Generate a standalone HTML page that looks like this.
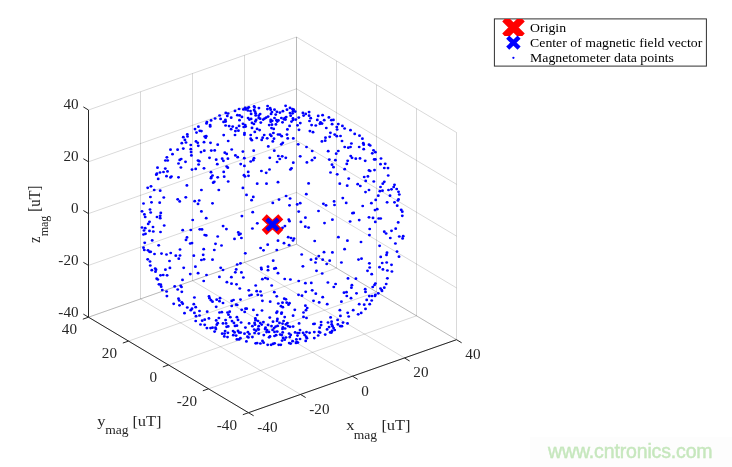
<!DOCTYPE html>
<html><head><meta charset="utf-8">
<style>
html,body{margin:0;padding:0;background:#fff;}
body{width:732px;height:467px;overflow:hidden;position:relative;font-family:"Liberation Serif",serif;}
svg{position:absolute;left:0;top:0;will-change:transform;}
.g{stroke:#000;stroke-opacity:0.15;stroke-width:1;fill:none;}
.a{stroke:#262626;stroke-width:1;fill:none;}
.t{font-family:"Liberation Serif",serif;font-size:13.8px;fill:#262626;}
.e{text-anchor:end;}
.l{font-family:"Liberation Serif",serif;font-size:14.67px;fill:#262626;}
.s{font-size:12px;}
.lg{font-family:"Liberation Serif",serif;font-size:13.33px;fill:#000;}
.wm{font-family:"Liberation Sans",sans-serif;font-size:19.5px;fill:#c6e7bd;}
</style></head><body>
<svg width="732" height="467" viewBox="0 0 732 467">
<rect x="0" y="0" width="732" height="467" fill="#fff"/>
<rect x="530" y="437" width="202" height="30" fill="#fdfdfd"/>
<g><line x1="248.50" y1="412.70" x2="88.50" y2="317.20" class="g"/><line x1="248.50" y1="412.70" x2="456.50" y2="339.70" class="g"/><line x1="88.50" y1="317.20" x2="88.50" y2="110.00" class="g"/><line x1="88.50" y1="317.20" x2="296.50" y2="244.20" class="g"/><line x1="456.50" y1="339.70" x2="456.50" y2="132.50" class="g"/><line x1="456.50" y1="339.70" x2="296.50" y2="244.20" class="g"/><line x1="300.50" y1="394.45" x2="140.50" y2="298.95" class="g"/><line x1="208.50" y1="388.83" x2="416.50" y2="315.82" class="g"/><line x1="140.50" y1="298.95" x2="140.50" y2="91.75" class="g"/><line x1="88.50" y1="265.40" x2="296.50" y2="192.40" class="g"/><line x1="416.50" y1="315.82" x2="416.50" y2="108.62" class="g"/><line x1="456.50" y1="287.90" x2="296.50" y2="192.40" class="g"/><line x1="352.50" y1="376.20" x2="192.50" y2="280.70" class="g"/><line x1="168.50" y1="364.95" x2="376.50" y2="291.95" class="g"/><line x1="192.50" y1="280.70" x2="192.50" y2="73.50" class="g"/><line x1="88.50" y1="213.60" x2="296.50" y2="140.60" class="g"/><line x1="376.50" y1="291.95" x2="376.50" y2="84.75" class="g"/><line x1="456.50" y1="236.10" x2="296.50" y2="140.60" class="g"/><line x1="404.50" y1="357.95" x2="244.50" y2="262.45" class="g"/><line x1="128.50" y1="341.08" x2="336.50" y2="268.07" class="g"/><line x1="244.50" y1="262.45" x2="244.50" y2="55.25" class="g"/><line x1="88.50" y1="161.80" x2="296.50" y2="88.80" class="g"/><line x1="336.50" y1="268.07" x2="336.50" y2="60.88" class="g"/><line x1="456.50" y1="184.30" x2="296.50" y2="88.80" class="g"/><line x1="456.50" y1="339.70" x2="296.50" y2="244.20" class="g"/><line x1="88.50" y1="317.20" x2="296.50" y2="244.20" class="g"/><line x1="296.50" y1="244.20" x2="296.50" y2="37.00" class="g"/><line x1="88.50" y1="110.00" x2="296.50" y2="37.00" class="g"/><line x1="296.50" y1="244.20" x2="296.50" y2="37.00" class="g"/><line x1="456.50" y1="132.50" x2="296.50" y2="37.00" class="g"/></g>
<g><line x1="88.50" y1="317.20" x2="88.50" y2="110.00" class="a"/><line x1="88.50" y1="317.20" x2="248.50" y2="412.70" class="a"/><line x1="248.50" y1="412.70" x2="456.50" y2="339.70" class="a"/><line x1="88.50" y1="317.20" x2="83.35" y2="314.12" class="a"/><line x1="248.50" y1="412.70" x2="242.84" y2="414.69" class="a"/><line x1="248.50" y1="412.70" x2="253.65" y2="415.78" class="a"/><line x1="88.50" y1="265.40" x2="83.35" y2="262.32" class="a"/><line x1="208.50" y1="388.83" x2="202.84" y2="390.81" class="a"/><line x1="300.50" y1="394.45" x2="305.65" y2="397.53" class="a"/><line x1="88.50" y1="213.60" x2="83.35" y2="210.52" class="a"/><line x1="168.50" y1="364.95" x2="162.84" y2="366.94" class="a"/><line x1="352.50" y1="376.20" x2="357.65" y2="379.28" class="a"/><line x1="88.50" y1="161.80" x2="83.35" y2="158.72" class="a"/><line x1="128.50" y1="341.08" x2="122.84" y2="343.06" class="a"/><line x1="404.50" y1="357.95" x2="409.65" y2="361.03" class="a"/><line x1="88.50" y1="110.00" x2="83.35" y2="106.92" class="a"/><line x1="88.50" y1="317.20" x2="82.84" y2="319.19" class="a"/><line x1="456.50" y1="339.70" x2="461.65" y2="342.78" class="a"/></g>
<g fill="#0000ff"><ellipse cx="154.2" cy="190.0" rx="1.45" ry="1.36"/><ellipse cx="160.2" cy="190.7" rx="1.45" ry="1.36"/><ellipse cx="201.4" cy="190.0" rx="1.45" ry="1.36"/><ellipse cx="150.4" cy="197.0" rx="1.45" ry="1.36"/><ellipse cx="163.8" cy="197.5" rx="1.45" ry="1.36"/><ellipse cx="177.7" cy="199.3" rx="1.45" ry="1.36"/><ellipse cx="185.8" cy="197.3" rx="1.45" ry="1.36"/><ellipse cx="179.7" cy="201.4" rx="1.45" ry="1.36"/><ellipse cx="151.5" cy="202.3" rx="1.45" ry="1.36"/><ellipse cx="159.7" cy="202.7" rx="1.45" ry="1.36"/><ellipse cx="143.5" cy="203.5" rx="1.45" ry="1.36"/><ellipse cx="194.7" cy="201.2" rx="1.45" ry="1.36"/><ellipse cx="199.2" cy="200.5" rx="1.45" ry="1.36"/><ellipse cx="198.0" cy="203.9" rx="1.45" ry="1.36"/><ellipse cx="150.0" cy="209.5" rx="1.45" ry="1.36"/><ellipse cx="142.0" cy="211.3" rx="1.45" ry="1.36"/><ellipse cx="150.7" cy="212.5" rx="1.45" ry="1.36"/><ellipse cx="160.8" cy="212.9" rx="1.45" ry="1.36"/><ellipse cx="201.4" cy="211.4" rx="1.45" ry="1.36"/><ellipse cx="144.4" cy="214.4" rx="1.45" ry="1.36"/><ellipse cx="145.2" cy="217.0" rx="1.45" ry="1.36"/><ellipse cx="157.0" cy="217.0" rx="1.45" ry="1.36"/><ellipse cx="160.2" cy="215.8" rx="1.45" ry="1.36"/><ellipse cx="160.2" cy="218.2" rx="1.45" ry="1.36"/><ellipse cx="192.7" cy="220.0" rx="1.45" ry="1.36"/><ellipse cx="149.5" cy="221.8" rx="1.45" ry="1.36"/><ellipse cx="148.2" cy="223.9" rx="1.45" ry="1.36"/><ellipse cx="164.2" cy="225.5" rx="1.45" ry="1.36"/><ellipse cx="142.0" cy="227.5" rx="1.45" ry="1.36"/><ellipse cx="145.2" cy="228.2" rx="1.45" ry="1.36"/><ellipse cx="153.0" cy="227.0" rx="1.45" ry="1.36"/><ellipse cx="144.0" cy="230.5" rx="1.45" ry="1.36"/><ellipse cx="149.5" cy="230.9" rx="1.45" ry="1.36"/><ellipse cx="153.3" cy="231.5" rx="1.45" ry="1.36"/><ellipse cx="160.5" cy="232.0" rx="1.45" ry="1.36"/><ellipse cx="182.7" cy="230.2" rx="1.45" ry="1.36"/><ellipse cx="190.8" cy="230.0" rx="1.45" ry="1.36"/><ellipse cx="199.8" cy="229.3" rx="1.45" ry="1.36"/><ellipse cx="202.0" cy="229.4" rx="1.45" ry="1.36"/><ellipse cx="145.5" cy="233.8" rx="1.45" ry="1.36"/><ellipse cx="143.5" cy="234.5" rx="1.45" ry="1.36"/><ellipse cx="204.7" cy="235.0" rx="1.45" ry="1.36"/><ellipse cx="187.0" cy="237.4" rx="1.45" ry="1.36"/><ellipse cx="186.0" cy="239.9" rx="1.45" ry="1.36"/><ellipse cx="152.2" cy="240.4" rx="1.45" ry="1.36"/><ellipse cx="144.7" cy="242.8" rx="1.45" ry="1.36"/><ellipse cx="190.2" cy="243.5" rx="1.45" ry="1.36"/><ellipse cx="192.0" cy="243.1" rx="1.45" ry="1.36"/><ellipse cx="158.7" cy="245.3" rx="1.45" ry="1.36"/><ellipse cx="143.5" cy="247.7" rx="1.45" ry="1.36"/><ellipse cx="144.3" cy="250.0" rx="1.45" ry="1.36"/><ellipse cx="148.0" cy="250.3" rx="1.45" ry="1.36"/><ellipse cx="149.5" cy="251.8" rx="1.45" ry="1.36"/><ellipse cx="150.7" cy="251.8" rx="1.45" ry="1.36"/><ellipse cx="180.0" cy="249.5" rx="1.45" ry="1.36"/><ellipse cx="203.7" cy="249.2" rx="1.45" ry="1.36"/><ellipse cx="154.5" cy="254.0" rx="1.45" ry="1.36"/><ellipse cx="161.5" cy="253.6" rx="1.45" ry="1.36"/><ellipse cx="166.5" cy="254.5" rx="1.45" ry="1.36"/><ellipse cx="170.7" cy="253.0" rx="1.45" ry="1.36"/><ellipse cx="175.8" cy="255.7" rx="1.45" ry="1.36"/><ellipse cx="180.0" cy="255.5" rx="1.45" ry="1.36"/><ellipse cx="193.8" cy="255.7" rx="1.45" ry="1.36"/><ellipse cx="203.2" cy="254.8" rx="1.45" ry="1.36"/><ellipse cx="147.7" cy="259.3" rx="1.45" ry="1.36"/><ellipse cx="178.8" cy="258.7" rx="1.45" ry="1.36"/><ellipse cx="204.0" cy="259.3" rx="1.45" ry="1.36"/><ellipse cx="218.8" cy="190.0" rx="1.45" ry="1.36"/><ellipse cx="246.5" cy="194.9" rx="1.45" ry="1.36"/><ellipse cx="253.3" cy="196.9" rx="1.45" ry="1.36"/><ellipse cx="251.6" cy="200.2" rx="1.45" ry="1.36"/><ellipse cx="212.5" cy="203.3" rx="1.45" ry="1.36"/><ellipse cx="272.8" cy="202.9" rx="1.45" ry="1.36"/><ellipse cx="252.7" cy="212.2" rx="1.45" ry="1.36"/><ellipse cx="241.9" cy="216.1" rx="1.45" ry="1.36"/><ellipse cx="206.2" cy="218.2" rx="1.45" ry="1.36"/><ellipse cx="257.3" cy="223.3" rx="1.45" ry="1.36"/><ellipse cx="223.1" cy="226.1" rx="1.45" ry="1.36"/><ellipse cx="226.4" cy="229.1" rx="1.45" ry="1.36"/><ellipse cx="252.4" cy="228.5" rx="1.45" ry="1.36"/><ellipse cx="238.3" cy="232.4" rx="1.45" ry="1.36"/><ellipse cx="240.5" cy="233.8" rx="1.45" ry="1.36"/><ellipse cx="239.0" cy="234.7" rx="1.45" ry="1.36"/><ellipse cx="206.2" cy="235.4" rx="1.45" ry="1.36"/><ellipse cx="217.7" cy="236.5" rx="1.45" ry="1.36"/><ellipse cx="234.5" cy="238.9" rx="1.45" ry="1.36"/><ellipse cx="241.4" cy="238.0" rx="1.45" ry="1.36"/><ellipse cx="215.5" cy="243.8" rx="1.45" ry="1.36"/><ellipse cx="221.5" cy="245.5" rx="1.45" ry="1.36"/><ellipse cx="267.7" cy="244.7" rx="1.45" ry="1.36"/><ellipse cx="260.6" cy="248.0" rx="1.45" ry="1.36"/><ellipse cx="263.5" cy="250.3" rx="1.45" ry="1.36"/><ellipse cx="214.3" cy="250.0" rx="1.45" ry="1.36"/><ellipse cx="245.3" cy="253.3" rx="1.45" ry="1.36"/><ellipse cx="212.5" cy="259.7" rx="1.45" ry="1.36"/><ellipse cx="306.3" cy="194.2" rx="1.45" ry="1.36"/><ellipse cx="286.1" cy="196.0" rx="1.45" ry="1.36"/><ellipse cx="290.1" cy="198.5" rx="1.45" ry="1.36"/><ellipse cx="279.0" cy="199.6" rx="1.45" ry="1.36"/><ellipse cx="342.8" cy="198.1" rx="1.45" ry="1.36"/><ellipse cx="334.1" cy="201.4" rx="1.45" ry="1.36"/><ellipse cx="323.4" cy="203.8" rx="1.45" ry="1.36"/><ellipse cx="326.0" cy="205.3" rx="1.45" ry="1.36"/><ellipse cx="334.5" cy="205.0" rx="1.45" ry="1.36"/><ellipse cx="300.2" cy="203.2" rx="1.45" ry="1.36"/><ellipse cx="297.2" cy="204.4" rx="1.45" ry="1.36"/><ellipse cx="289.5" cy="205.3" rx="1.45" ry="1.36"/><ellipse cx="298.7" cy="211.6" rx="1.45" ry="1.36"/><ellipse cx="318.5" cy="211.0" rx="1.45" ry="1.36"/><ellipse cx="305.4" cy="217.7" rx="1.45" ry="1.36"/><ellipse cx="288.8" cy="219.7" rx="1.45" ry="1.36"/><ellipse cx="289.5" cy="221.2" rx="1.45" ry="1.36"/><ellipse cx="300.9" cy="221.9" rx="1.45" ry="1.36"/><ellipse cx="332.4" cy="219.7" rx="1.45" ry="1.36"/><ellipse cx="324.5" cy="223.1" rx="1.45" ry="1.36"/><ellipse cx="284.9" cy="226.1" rx="1.45" ry="1.36"/><ellipse cx="282.5" cy="227.8" rx="1.45" ry="1.36"/><ellipse cx="305.3" cy="226.7" rx="1.45" ry="1.36"/><ellipse cx="308.6" cy="227.6" rx="1.45" ry="1.36"/><ellipse cx="338.4" cy="237.2" rx="1.45" ry="1.36"/><ellipse cx="288.2" cy="237.2" rx="1.45" ry="1.36"/><ellipse cx="291.0" cy="238.0" rx="1.45" ry="1.36"/><ellipse cx="294.0" cy="238.6" rx="1.45" ry="1.36"/><ellipse cx="293.0" cy="240.5" rx="1.45" ry="1.36"/><ellipse cx="278.0" cy="240.7" rx="1.45" ry="1.36"/><ellipse cx="314.7" cy="241.0" rx="1.45" ry="1.36"/><ellipse cx="284.0" cy="243.2" rx="1.45" ry="1.36"/><ellipse cx="289.1" cy="245.2" rx="1.45" ry="1.36"/><ellipse cx="276.8" cy="250.0" rx="1.45" ry="1.36"/><ellipse cx="344.6" cy="249.2" rx="1.45" ry="1.36"/><ellipse cx="324.0" cy="252.2" rx="1.45" ry="1.36"/><ellipse cx="332.4" cy="252.4" rx="1.45" ry="1.36"/><ellipse cx="301.7" cy="254.5" rx="1.45" ry="1.36"/><ellipse cx="318.8" cy="256.0" rx="1.45" ry="1.36"/><ellipse cx="316.2" cy="258.7" rx="1.45" ry="1.36"/><ellipse cx="311.0" cy="259.7" rx="1.45" ry="1.36"/><ellipse cx="322.7" cy="259.7" rx="1.45" ry="1.36"/><ellipse cx="365.5" cy="192.1" rx="1.45" ry="1.36"/><ellipse cx="369.0" cy="190.0" rx="1.45" ry="1.36"/><ellipse cx="379.9" cy="191.2" rx="1.45" ry="1.36"/><ellipse cx="382.5" cy="190.7" rx="1.45" ry="1.36"/><ellipse cx="388.5" cy="190.0" rx="1.45" ry="1.36"/><ellipse cx="398.5" cy="191.8" rx="1.45" ry="1.36"/><ellipse cx="399.3" cy="194.5" rx="1.45" ry="1.36"/><ellipse cx="378.3" cy="195.7" rx="1.45" ry="1.36"/><ellipse cx="390.0" cy="195.7" rx="1.45" ry="1.36"/><ellipse cx="375.7" cy="199.9" rx="1.45" ry="1.36"/><ellipse cx="398.5" cy="199.3" rx="1.45" ry="1.36"/><ellipse cx="397.9" cy="200.5" rx="1.45" ry="1.36"/><ellipse cx="346.2" cy="202.9" rx="1.45" ry="1.36"/><ellipse cx="371.4" cy="203.2" rx="1.45" ry="1.36"/><ellipse cx="387.1" cy="202.3" rx="1.45" ry="1.36"/><ellipse cx="394.5" cy="202.3" rx="1.45" ry="1.36"/><ellipse cx="362.7" cy="206.0" rx="1.45" ry="1.36"/><ellipse cx="397.2" cy="205.7" rx="1.45" ry="1.36"/><ellipse cx="377.2" cy="209.2" rx="1.45" ry="1.36"/><ellipse cx="375.0" cy="210.1" rx="1.45" ry="1.36"/><ellipse cx="401.2" cy="209.8" rx="1.45" ry="1.36"/><ellipse cx="402.3" cy="211.7" rx="1.45" ry="1.36"/><ellipse cx="352.5" cy="213.2" rx="1.45" ry="1.36"/><ellipse cx="353.7" cy="212.9" rx="1.45" ry="1.36"/><ellipse cx="402.3" cy="215.8" rx="1.45" ry="1.36"/><ellipse cx="369.0" cy="217.3" rx="1.45" ry="1.36"/><ellipse cx="373.0" cy="217.9" rx="1.45" ry="1.36"/><ellipse cx="378.7" cy="218.5" rx="1.45" ry="1.36"/><ellipse cx="380.7" cy="218.5" rx="1.45" ry="1.36"/><ellipse cx="359.2" cy="220.1" rx="1.45" ry="1.36"/><ellipse cx="350.1" cy="221.5" rx="1.45" ry="1.36"/><ellipse cx="375.3" cy="221.9" rx="1.45" ry="1.36"/><ellipse cx="398.2" cy="222.4" rx="1.45" ry="1.36"/><ellipse cx="369.7" cy="229.0" rx="1.45" ry="1.36"/><ellipse cx="395.7" cy="228.7" rx="1.45" ry="1.36"/><ellipse cx="391.5" cy="230.8" rx="1.45" ry="1.36"/><ellipse cx="384.3" cy="231.7" rx="1.45" ry="1.36"/><ellipse cx="386.1" cy="233.5" rx="1.45" ry="1.36"/><ellipse cx="369.4" cy="235.1" rx="1.45" ry="1.36"/><ellipse cx="399.3" cy="236.5" rx="1.45" ry="1.36"/><ellipse cx="403.2" cy="236.2" rx="1.45" ry="1.36"/><ellipse cx="402.6" cy="238.4" rx="1.45" ry="1.36"/><ellipse cx="390.3" cy="238.0" rx="1.45" ry="1.36"/><ellipse cx="347.4" cy="240.7" rx="1.45" ry="1.36"/><ellipse cx="361.0" cy="242.0" rx="1.45" ry="1.36"/><ellipse cx="395.4" cy="243.5" rx="1.45" ry="1.36"/><ellipse cx="379.6" cy="245.8" rx="1.45" ry="1.36"/><ellipse cx="397.0" cy="251.6" rx="1.45" ry="1.36"/><ellipse cx="387.0" cy="252.7" rx="1.45" ry="1.36"/><ellipse cx="386.5" cy="254.9" rx="1.45" ry="1.36"/><ellipse cx="380.7" cy="256.9" rx="1.45" ry="1.36"/><ellipse cx="399.0" cy="256.7" rx="1.45" ry="1.36"/><ellipse cx="361.5" cy="258.7" rx="1.45" ry="1.36"/><ellipse cx="358.5" cy="259.6" rx="1.45" ry="1.36"/><ellipse cx="198.4" cy="126.7" rx="1.45" ry="1.36"/><ellipse cx="195.0" cy="129.1" rx="1.45" ry="1.36"/><ellipse cx="199.8" cy="130.8" rx="1.45" ry="1.36"/><ellipse cx="201.4" cy="131.1" rx="1.45" ry="1.36"/><ellipse cx="196.5" cy="132.6" rx="1.45" ry="1.36"/><ellipse cx="187.3" cy="134.4" rx="1.45" ry="1.36"/><ellipse cx="187.5" cy="136.5" rx="1.45" ry="1.36"/><ellipse cx="183.3" cy="137.2" rx="1.45" ry="1.36"/><ellipse cx="204.7" cy="136.5" rx="1.45" ry="1.36"/><ellipse cx="184.9" cy="139.9" rx="1.45" ry="1.36"/><ellipse cx="196.0" cy="141.4" rx="1.45" ry="1.36"/><ellipse cx="197.7" cy="142.8" rx="1.45" ry="1.36"/><ellipse cx="186.0" cy="142.5" rx="1.45" ry="1.36"/><ellipse cx="181.8" cy="143.2" rx="1.45" ry="1.36"/><ellipse cx="204.0" cy="142.2" rx="1.45" ry="1.36"/><ellipse cx="190.8" cy="145.0" rx="1.45" ry="1.36"/><ellipse cx="198.3" cy="145.8" rx="1.45" ry="1.36"/><ellipse cx="183.3" cy="148.6" rx="1.45" ry="1.36"/><ellipse cx="190.8" cy="149.2" rx="1.45" ry="1.36"/><ellipse cx="177.6" cy="149.7" rx="1.45" ry="1.36"/><ellipse cx="170.5" cy="149.7" rx="1.45" ry="1.36"/><ellipse cx="204.3" cy="150.7" rx="1.45" ry="1.36"/><ellipse cx="191.1" cy="152.1" rx="1.45" ry="1.36"/><ellipse cx="201.0" cy="152.1" rx="1.45" ry="1.36"/><ellipse cx="172.5" cy="154.2" rx="1.45" ry="1.36"/><ellipse cx="191.4" cy="155.4" rx="1.45" ry="1.36"/><ellipse cx="166.9" cy="157.3" rx="1.45" ry="1.36"/><ellipse cx="181.2" cy="159.0" rx="1.45" ry="1.36"/><ellipse cx="179.7" cy="159.9" rx="1.45" ry="1.36"/><ellipse cx="165.4" cy="160.5" rx="1.45" ry="1.36"/><ellipse cx="167.7" cy="160.5" rx="1.45" ry="1.36"/><ellipse cx="198.0" cy="160.5" rx="1.45" ry="1.36"/><ellipse cx="199.2" cy="161.2" rx="1.45" ry="1.36"/><ellipse cx="185.5" cy="161.8" rx="1.45" ry="1.36"/><ellipse cx="178.5" cy="163.5" rx="1.45" ry="1.36"/><ellipse cx="198.6" cy="164.5" rx="1.45" ry="1.36"/><ellipse cx="180.9" cy="167.5" rx="1.45" ry="1.36"/><ellipse cx="157.5" cy="167.7" rx="1.45" ry="1.36"/><ellipse cx="165.3" cy="168.6" rx="1.45" ry="1.36"/><ellipse cx="204.0" cy="168.3" rx="1.45" ry="1.36"/><ellipse cx="195.7" cy="168.9" rx="1.45" ry="1.36"/><ellipse cx="192.0" cy="169.6" rx="1.45" ry="1.36"/><ellipse cx="167.5" cy="171.4" rx="1.45" ry="1.36"/><ellipse cx="160.0" cy="172.5" rx="1.45" ry="1.36"/><ellipse cx="163.5" cy="172.0" rx="1.45" ry="1.36"/><ellipse cx="156.9" cy="173.7" rx="1.45" ry="1.36"/><ellipse cx="156.3" cy="174.7" rx="1.45" ry="1.36"/><ellipse cx="166.5" cy="176.2" rx="1.45" ry="1.36"/><ellipse cx="171.4" cy="176.5" rx="1.45" ry="1.36"/><ellipse cx="170.5" cy="177.4" rx="1.45" ry="1.36"/><ellipse cx="178.5" cy="177.3" rx="1.45" ry="1.36"/><ellipse cx="158.2" cy="178.9" rx="1.45" ry="1.36"/><ellipse cx="186.9" cy="185.4" rx="1.45" ry="1.36"/><ellipse cx="151.0" cy="186.3" rx="1.45" ry="1.36"/><ellipse cx="147.7" cy="187.8" rx="1.45" ry="1.36"/><ellipse cx="223.7" cy="135.1" rx="1.45" ry="1.36"/><ellipse cx="206.2" cy="136.2" rx="1.45" ry="1.36"/><ellipse cx="205.7" cy="137.7" rx="1.45" ry="1.36"/><ellipse cx="256.7" cy="138.0" rx="1.45" ry="1.36"/><ellipse cx="262.7" cy="137.7" rx="1.45" ry="1.36"/><ellipse cx="267.2" cy="138.3" rx="1.45" ry="1.36"/><ellipse cx="274.0" cy="138.7" rx="1.45" ry="1.36"/><ellipse cx="250.7" cy="138.7" rx="1.45" ry="1.36"/><ellipse cx="251.8" cy="140.2" rx="1.45" ry="1.36"/><ellipse cx="261.7" cy="139.9" rx="1.45" ry="1.36"/><ellipse cx="228.2" cy="141.0" rx="1.45" ry="1.36"/><ellipse cx="272.8" cy="141.4" rx="1.45" ry="1.36"/><ellipse cx="210.5" cy="142.8" rx="1.45" ry="1.36"/><ellipse cx="217.7" cy="144.7" rx="1.45" ry="1.36"/><ellipse cx="268.3" cy="146.4" rx="1.45" ry="1.36"/><ellipse cx="231.7" cy="149.5" rx="1.45" ry="1.36"/><ellipse cx="211.3" cy="150.6" rx="1.45" ry="1.36"/><ellipse cx="214.7" cy="150.4" rx="1.45" ry="1.36"/><ellipse cx="253.7" cy="150.7" rx="1.45" ry="1.36"/><ellipse cx="242.9" cy="151.6" rx="1.45" ry="1.36"/><ellipse cx="274.3" cy="150.7" rx="1.45" ry="1.36"/><ellipse cx="224.8" cy="152.7" rx="1.45" ry="1.36"/><ellipse cx="226.7" cy="153.9" rx="1.45" ry="1.36"/><ellipse cx="235.4" cy="155.4" rx="1.45" ry="1.36"/><ellipse cx="237.7" cy="157.2" rx="1.45" ry="1.36"/><ellipse cx="209.5" cy="157.8" rx="1.45" ry="1.36"/><ellipse cx="244.3" cy="158.2" rx="1.45" ry="1.36"/><ellipse cx="269.8" cy="157.8" rx="1.45" ry="1.36"/><ellipse cx="227.9" cy="158.7" rx="1.45" ry="1.36"/><ellipse cx="222.2" cy="158.7" rx="1.45" ry="1.36"/><ellipse cx="216.2" cy="159.7" rx="1.45" ry="1.36"/><ellipse cx="223.4" cy="160.8" rx="1.45" ry="1.36"/><ellipse cx="254.0" cy="158.2" rx="1.45" ry="1.36"/><ellipse cx="253.3" cy="160.2" rx="1.45" ry="1.36"/><ellipse cx="250.7" cy="161.5" rx="1.45" ry="1.36"/><ellipse cx="240.7" cy="164.1" rx="1.45" ry="1.36"/><ellipse cx="217.3" cy="164.2" rx="1.45" ry="1.36"/><ellipse cx="244.4" cy="165.9" rx="1.45" ry="1.36"/><ellipse cx="226.7" cy="166.5" rx="1.45" ry="1.36"/><ellipse cx="227.8" cy="167.7" rx="1.45" ry="1.36"/><ellipse cx="269.5" cy="169.5" rx="1.45" ry="1.36"/><ellipse cx="261.4" cy="171.0" rx="1.45" ry="1.36"/><ellipse cx="248.2" cy="171.9" rx="1.45" ry="1.36"/><ellipse cx="211.0" cy="172.2" rx="1.45" ry="1.36"/><ellipse cx="223.7" cy="171.9" rx="1.45" ry="1.36"/><ellipse cx="266.2" cy="172.8" rx="1.45" ry="1.36"/><ellipse cx="244.0" cy="175.2" rx="1.45" ry="1.36"/><ellipse cx="212.5" cy="175.5" rx="1.45" ry="1.36"/><ellipse cx="245.0" cy="176.5" rx="1.45" ry="1.36"/><ellipse cx="248.5" cy="175.8" rx="1.45" ry="1.36"/><ellipse cx="211.3" cy="177.0" rx="1.45" ry="1.36"/><ellipse cx="211.0" cy="178.2" rx="1.45" ry="1.36"/><ellipse cx="217.7" cy="177.3" rx="1.45" ry="1.36"/><ellipse cx="224.2" cy="176.7" rx="1.45" ry="1.36"/><ellipse cx="228.2" cy="181.5" rx="1.45" ry="1.36"/><ellipse cx="214.3" cy="181.8" rx="1.45" ry="1.36"/><ellipse cx="213.2" cy="182.7" rx="1.45" ry="1.36"/><ellipse cx="257.2" cy="183.7" rx="1.45" ry="1.36"/><ellipse cx="266.5" cy="183.7" rx="1.45" ry="1.36"/><ellipse cx="242.9" cy="187.9" rx="1.45" ry="1.36"/><ellipse cx="235.0" cy="135.0" rx="1.45" ry="1.36"/><ellipse cx="244.4" cy="134.7" rx="1.45" ry="1.36"/><ellipse cx="250.7" cy="135.0" rx="1.45" ry="1.36"/><ellipse cx="264.2" cy="135.0" rx="1.45" ry="1.36"/><ellipse cx="270.2" cy="134.7" rx="1.45" ry="1.36"/><ellipse cx="271.3" cy="135.9" rx="1.45" ry="1.36"/><ellipse cx="239.1" cy="109.0" rx="1.45" ry="1.36"/><ellipse cx="235.0" cy="110.9" rx="1.45" ry="1.36"/><ellipse cx="225.8" cy="112.9" rx="1.45" ry="1.36"/><ellipse cx="228.1" cy="113.5" rx="1.45" ry="1.36"/><ellipse cx="219.6" cy="115.5" rx="1.45" ry="1.36"/><ellipse cx="227.3" cy="115.9" rx="1.45" ry="1.36"/><ellipse cx="237.4" cy="115.2" rx="1.45" ry="1.36"/><ellipse cx="239.6" cy="115.4" rx="1.45" ry="1.36"/><ellipse cx="231.2" cy="117.7" rx="1.45" ry="1.36"/><ellipse cx="215.1" cy="118.5" rx="1.45" ry="1.36"/><ellipse cx="220.6" cy="118.9" rx="1.45" ry="1.36"/><ellipse cx="225.4" cy="119.9" rx="1.45" ry="1.36"/><ellipse cx="211.1" cy="120.4" rx="1.45" ry="1.36"/><ellipse cx="239.5" cy="120.2" rx="1.45" ry="1.36"/><ellipse cx="223.6" cy="121.9" rx="1.45" ry="1.36"/><ellipse cx="225.6" cy="121.6" rx="1.45" ry="1.36"/><ellipse cx="206.9" cy="122.0" rx="1.45" ry="1.36"/><ellipse cx="206.5" cy="123.4" rx="1.45" ry="1.36"/><ellipse cx="210.1" cy="125.1" rx="1.45" ry="1.36"/><ellipse cx="210.2" cy="126.4" rx="1.45" ry="1.36"/><ellipse cx="225.6" cy="125.5" rx="1.45" ry="1.36"/><ellipse cx="229.1" cy="126.1" rx="1.45" ry="1.36"/><ellipse cx="232.7" cy="126.6" rx="1.45" ry="1.36"/><ellipse cx="239.1" cy="125.9" rx="1.45" ry="1.36"/><ellipse cx="236.5" cy="128.1" rx="1.45" ry="1.36"/><ellipse cx="231.1" cy="129.2" rx="1.45" ry="1.36"/><ellipse cx="235.4" cy="131.1" rx="1.45" ry="1.36"/><ellipse cx="238.4" cy="130.7" rx="1.45" ry="1.36"/><ellipse cx="243.4" cy="109.4" rx="1.45" ry="1.36"/><ellipse cx="245.1" cy="107.9" rx="1.45" ry="1.36"/><ellipse cx="245.6" cy="109.4" rx="1.45" ry="1.36"/><ellipse cx="247.5" cy="108.2" rx="1.45" ry="1.36"/><ellipse cx="248.8" cy="107.3" rx="1.45" ry="1.36"/><ellipse cx="247.9" cy="110.5" rx="1.45" ry="1.36"/><ellipse cx="250.5" cy="111.1" rx="1.45" ry="1.36"/><ellipse cx="254.1" cy="106.4" rx="1.45" ry="1.36"/><ellipse cx="254.6" cy="107.5" rx="1.45" ry="1.36"/><ellipse cx="254.1" cy="110.1" rx="1.45" ry="1.36"/><ellipse cx="255.0" cy="111.6" rx="1.45" ry="1.36"/><ellipse cx="258.9" cy="108.1" rx="1.45" ry="1.36"/><ellipse cx="267.6" cy="106.0" rx="1.45" ry="1.36"/><ellipse cx="267.4" cy="109.1" rx="1.45" ry="1.36"/><ellipse cx="270.1" cy="108.1" rx="1.45" ry="1.36"/><ellipse cx="270.7" cy="109.7" rx="1.45" ry="1.36"/><ellipse cx="271.9" cy="112.0" rx="1.45" ry="1.36"/><ellipse cx="274.5" cy="109.7" rx="1.45" ry="1.36"/><ellipse cx="271.1" cy="113.9" rx="1.45" ry="1.36"/><ellipse cx="251.1" cy="113.9" rx="1.45" ry="1.36"/><ellipse cx="255.6" cy="113.3" rx="1.45" ry="1.36"/><ellipse cx="255.7" cy="115.4" rx="1.45" ry="1.36"/><ellipse cx="260.1" cy="114.1" rx="1.45" ry="1.36"/><ellipse cx="258.7" cy="115.7" rx="1.45" ry="1.36"/><ellipse cx="241.9" cy="116.9" rx="1.45" ry="1.36"/><ellipse cx="248.1" cy="118.0" rx="1.45" ry="1.36"/><ellipse cx="249.4" cy="119.6" rx="1.45" ry="1.36"/><ellipse cx="251.1" cy="118.9" rx="1.45" ry="1.36"/><ellipse cx="258.7" cy="118.0" rx="1.45" ry="1.36"/><ellipse cx="260.1" cy="118.7" rx="1.45" ry="1.36"/><ellipse cx="256.1" cy="119.9" rx="1.45" ry="1.36"/><ellipse cx="255.4" cy="121.4" rx="1.45" ry="1.36"/><ellipse cx="263.2" cy="119.6" rx="1.45" ry="1.36"/><ellipse cx="264.6" cy="118.6" rx="1.45" ry="1.36"/><ellipse cx="266.2" cy="117.6" rx="1.45" ry="1.36"/><ellipse cx="268.1" cy="116.6" rx="1.45" ry="1.36"/><ellipse cx="274.5" cy="118.0" rx="1.45" ry="1.36"/><ellipse cx="270.7" cy="119.9" rx="1.45" ry="1.36"/><ellipse cx="272.2" cy="120.8" rx="1.45" ry="1.36"/><ellipse cx="270.7" cy="121.7" rx="1.45" ry="1.36"/><ellipse cx="252.0" cy="122.9" rx="1.45" ry="1.36"/><ellipse cx="253.9" cy="124.0" rx="1.45" ry="1.36"/><ellipse cx="260.8" cy="122.6" rx="1.45" ry="1.36"/><ellipse cx="243.0" cy="123.8" rx="1.45" ry="1.36"/><ellipse cx="245.2" cy="125.1" rx="1.45" ry="1.36"/><ellipse cx="245.6" cy="126.6" rx="1.45" ry="1.36"/><ellipse cx="243.7" cy="127.0" rx="1.45" ry="1.36"/><ellipse cx="269.2" cy="125.1" rx="1.45" ry="1.36"/><ellipse cx="271.9" cy="124.7" rx="1.45" ry="1.36"/><ellipse cx="271.5" cy="128.1" rx="1.45" ry="1.36"/><ellipse cx="273.7" cy="128.9" rx="1.45" ry="1.36"/><ellipse cx="252.0" cy="127.9" rx="1.45" ry="1.36"/><ellipse cx="257.1" cy="128.9" rx="1.45" ry="1.36"/><ellipse cx="259.6" cy="130.1" rx="1.45" ry="1.36"/><ellipse cx="254.8" cy="131.9" rx="1.45" ry="1.36"/><ellipse cx="244.5" cy="133.0" rx="1.45" ry="1.36"/><ellipse cx="273.4" cy="133.0" rx="1.45" ry="1.36"/><ellipse cx="285.6" cy="105.8" rx="1.45" ry="1.36"/><ellipse cx="290.0" cy="107.9" rx="1.45" ry="1.36"/><ellipse cx="287.0" cy="109.7" rx="1.45" ry="1.36"/><ellipse cx="292.4" cy="109.0" rx="1.45" ry="1.36"/><ellipse cx="293.7" cy="109.7" rx="1.45" ry="1.36"/><ellipse cx="293.0" cy="111.2" rx="1.45" ry="1.36"/><ellipse cx="295.2" cy="111.6" rx="1.45" ry="1.36"/><ellipse cx="282.9" cy="111.2" rx="1.45" ry="1.36"/><ellipse cx="276.9" cy="111.8" rx="1.45" ry="1.36"/><ellipse cx="279.9" cy="112.6" rx="1.45" ry="1.36"/><ellipse cx="290.0" cy="113.1" rx="1.45" ry="1.36"/><ellipse cx="292.6" cy="113.3" rx="1.45" ry="1.36"/><ellipse cx="302.9" cy="112.9" rx="1.45" ry="1.36"/><ellipse cx="305.7" cy="113.9" rx="1.45" ry="1.36"/><ellipse cx="309.1" cy="112.1" rx="1.45" ry="1.36"/><ellipse cx="275.7" cy="114.6" rx="1.45" ry="1.36"/><ellipse cx="290.7" cy="115.7" rx="1.45" ry="1.36"/><ellipse cx="303.6" cy="115.6" rx="1.45" ry="1.36"/><ellipse cx="309.1" cy="115.7" rx="1.45" ry="1.36"/><ellipse cx="281.4" cy="118.0" rx="1.45" ry="1.36"/><ellipse cx="286.2" cy="117.1" rx="1.45" ry="1.36"/><ellipse cx="284.7" cy="118.0" rx="1.45" ry="1.36"/><ellipse cx="284.0" cy="119.3" rx="1.45" ry="1.36"/><ellipse cx="285.5" cy="119.6" rx="1.45" ry="1.36"/><ellipse cx="298.8" cy="117.6" rx="1.45" ry="1.36"/><ellipse cx="293.0" cy="118.4" rx="1.45" ry="1.36"/><ellipse cx="293.1" cy="119.9" rx="1.45" ry="1.36"/><ellipse cx="295.8" cy="119.6" rx="1.45" ry="1.36"/><ellipse cx="276.5" cy="120.2" rx="1.45" ry="1.36"/><ellipse cx="278.4" cy="120.4" rx="1.45" ry="1.36"/><ellipse cx="277.2" cy="121.6" rx="1.45" ry="1.36"/><ellipse cx="291.5" cy="121.6" rx="1.45" ry="1.36"/><ellipse cx="282.5" cy="122.3" rx="1.45" ry="1.36"/><ellipse cx="300.3" cy="123.1" rx="1.45" ry="1.36"/><ellipse cx="309.5" cy="121.0" rx="1.45" ry="1.36"/><ellipse cx="275.9" cy="124.4" rx="1.45" ry="1.36"/><ellipse cx="297.5" cy="125.3" rx="1.45" ry="1.36"/><ellipse cx="289.6" cy="125.9" rx="1.45" ry="1.36"/><ellipse cx="287.4" cy="129.4" rx="1.45" ry="1.36"/><ellipse cx="299.0" cy="129.8" rx="1.45" ry="1.36"/><ellipse cx="278.0" cy="134.5" rx="1.45" ry="1.36"/><ellipse cx="279.9" cy="134.6" rx="1.45" ry="1.36"/><ellipse cx="287.0" cy="134.6" rx="1.45" ry="1.36"/><ellipse cx="309.9" cy="131.1" rx="1.45" ry="1.36"/><ellipse cx="322.6" cy="115.2" rx="1.45" ry="1.36"/><ellipse cx="318.2" cy="115.9" rx="1.45" ry="1.36"/><ellipse cx="328.9" cy="117.4" rx="1.45" ry="1.36"/><ellipse cx="310.7" cy="118.2" rx="1.45" ry="1.36"/><ellipse cx="317.3" cy="119.9" rx="1.45" ry="1.36"/><ellipse cx="324.2" cy="120.2" rx="1.45" ry="1.36"/><ellipse cx="331.4" cy="120.2" rx="1.45" ry="1.36"/><ellipse cx="333.4" cy="119.9" rx="1.45" ry="1.36"/><ellipse cx="320.5" cy="122.3" rx="1.45" ry="1.36"/><ellipse cx="322.0" cy="123.6" rx="1.45" ry="1.36"/><ellipse cx="319.9" cy="123.8" rx="1.45" ry="1.36"/><ellipse cx="332.1" cy="124.2" rx="1.45" ry="1.36"/><ellipse cx="338.3" cy="124.1" rx="1.45" ry="1.36"/><ellipse cx="311.6" cy="125.1" rx="1.45" ry="1.36"/><ellipse cx="315.8" cy="125.5" rx="1.45" ry="1.36"/><ellipse cx="342.4" cy="125.9" rx="1.45" ry="1.36"/><ellipse cx="336.8" cy="127.0" rx="1.45" ry="1.36"/><ellipse cx="326.3" cy="128.0" rx="1.45" ry="1.36"/><ellipse cx="344.6" cy="128.5" rx="1.45" ry="1.36"/><ellipse cx="337.1" cy="129.5" rx="1.45" ry="1.36"/><ellipse cx="313.0" cy="132.2" rx="1.45" ry="1.36"/><ellipse cx="330.4" cy="132.8" rx="1.45" ry="1.36"/><ellipse cx="334.7" cy="134.6" rx="1.45" ry="1.36"/><ellipse cx="281.7" cy="136.2" rx="1.45" ry="1.36"/><ellipse cx="287.7" cy="138.4" rx="1.45" ry="1.36"/><ellipse cx="293.3" cy="138.4" rx="1.45" ry="1.36"/><ellipse cx="336.8" cy="136.2" rx="1.45" ry="1.36"/><ellipse cx="340.5" cy="136.0" rx="1.45" ry="1.36"/><ellipse cx="329.7" cy="136.8" rx="1.45" ry="1.36"/><ellipse cx="325.5" cy="137.7" rx="1.45" ry="1.36"/><ellipse cx="325.2" cy="140.7" rx="1.45" ry="1.36"/><ellipse cx="321.9" cy="141.4" rx="1.45" ry="1.36"/><ellipse cx="342.0" cy="141.0" rx="1.45" ry="1.36"/><ellipse cx="282.8" cy="142.8" rx="1.45" ry="1.36"/><ellipse cx="281.3" cy="144.3" rx="1.45" ry="1.36"/><ellipse cx="298.2" cy="144.3" rx="1.45" ry="1.36"/><ellipse cx="306.5" cy="147.0" rx="1.45" ry="1.36"/><ellipse cx="344.7" cy="147.0" rx="1.45" ry="1.36"/><ellipse cx="312.2" cy="151.0" rx="1.45" ry="1.36"/><ellipse cx="328.2" cy="151.2" rx="1.45" ry="1.36"/><ellipse cx="338.3" cy="151.0" rx="1.45" ry="1.36"/><ellipse cx="336.2" cy="153.7" rx="1.45" ry="1.36"/><ellipse cx="300.2" cy="156.3" rx="1.45" ry="1.36"/><ellipse cx="278.3" cy="156.0" rx="1.45" ry="1.36"/><ellipse cx="282.2" cy="156.3" rx="1.45" ry="1.36"/><ellipse cx="285.8" cy="157.8" rx="1.45" ry="1.36"/><ellipse cx="314.7" cy="157.8" rx="1.45" ry="1.36"/><ellipse cx="279.8" cy="159.0" rx="1.45" ry="1.36"/><ellipse cx="312.0" cy="160.2" rx="1.45" ry="1.36"/><ellipse cx="329.3" cy="159.6" rx="1.45" ry="1.36"/><ellipse cx="335.4" cy="160.2" rx="1.45" ry="1.36"/><ellipse cx="277.1" cy="162.0" rx="1.45" ry="1.36"/><ellipse cx="306.9" cy="162.4" rx="1.45" ry="1.36"/><ellipse cx="293.3" cy="162.7" rx="1.45" ry="1.36"/><ellipse cx="332.0" cy="164.7" rx="1.45" ry="1.36"/><ellipse cx="333.5" cy="167.2" rx="1.45" ry="1.36"/><ellipse cx="291.5" cy="168.3" rx="1.45" ry="1.36"/><ellipse cx="290.4" cy="169.5" rx="1.45" ry="1.36"/><ellipse cx="330.5" cy="172.5" rx="1.45" ry="1.36"/><ellipse cx="337.2" cy="174.3" rx="1.45" ry="1.36"/><ellipse cx="278.0" cy="182.2" rx="1.45" ry="1.36"/><ellipse cx="308.6" cy="183.4" rx="1.45" ry="1.36"/><ellipse cx="339.8" cy="183.7" rx="1.45" ry="1.36"/><ellipse cx="344.7" cy="169.2" rx="1.45" ry="1.36"/><ellipse cx="350.5" cy="130.2" rx="1.45" ry="1.36"/><ellipse cx="354.7" cy="133.9" rx="1.45" ry="1.36"/><ellipse cx="359.5" cy="135.7" rx="1.45" ry="1.36"/><ellipse cx="362.4" cy="138.7" rx="1.45" ry="1.36"/><ellipse cx="351.4" cy="143.5" rx="1.45" ry="1.36"/><ellipse cx="363.3" cy="143.2" rx="1.45" ry="1.36"/><ellipse cx="363.7" cy="144.7" rx="1.45" ry="1.36"/><ellipse cx="369.0" cy="144.7" rx="1.45" ry="1.36"/><ellipse cx="370.2" cy="145.5" rx="1.45" ry="1.36"/><ellipse cx="348.3" cy="147.7" rx="1.45" ry="1.36"/><ellipse cx="350.5" cy="147.0" rx="1.45" ry="1.36"/><ellipse cx="359.2" cy="147.0" rx="1.45" ry="1.36"/><ellipse cx="363.7" cy="149.2" rx="1.45" ry="1.36"/><ellipse cx="373.5" cy="150.3" rx="1.45" ry="1.36"/><ellipse cx="375.4" cy="152.2" rx="1.45" ry="1.36"/><ellipse cx="372.3" cy="153.3" rx="1.45" ry="1.36"/><ellipse cx="350.7" cy="156.0" rx="1.45" ry="1.36"/><ellipse cx="352.0" cy="157.8" rx="1.45" ry="1.36"/><ellipse cx="355.8" cy="158.7" rx="1.45" ry="1.36"/><ellipse cx="360.0" cy="158.4" rx="1.45" ry="1.36"/><ellipse cx="381.0" cy="158.5" rx="1.45" ry="1.36"/><ellipse cx="365.2" cy="160.8" rx="1.45" ry="1.36"/><ellipse cx="347.7" cy="160.8" rx="1.45" ry="1.36"/><ellipse cx="374.2" cy="159.4" rx="1.45" ry="1.36"/><ellipse cx="375.4" cy="159.4" rx="1.45" ry="1.36"/><ellipse cx="346.8" cy="163.9" rx="1.45" ry="1.36"/><ellipse cx="380.5" cy="164.2" rx="1.45" ry="1.36"/><ellipse cx="385.2" cy="163.8" rx="1.45" ry="1.36"/><ellipse cx="384.3" cy="168.0" rx="1.45" ry="1.36"/><ellipse cx="388.0" cy="168.1" rx="1.45" ry="1.36"/><ellipse cx="369.0" cy="170.4" rx="1.45" ry="1.36"/><ellipse cx="370.2" cy="171.0" rx="1.45" ry="1.36"/><ellipse cx="374.5" cy="170.1" rx="1.45" ry="1.36"/><ellipse cx="388.2" cy="175.5" rx="1.45" ry="1.36"/><ellipse cx="367.9" cy="176.4" rx="1.45" ry="1.36"/><ellipse cx="364.2" cy="177.0" rx="1.45" ry="1.36"/><ellipse cx="348.7" cy="178.6" rx="1.45" ry="1.36"/><ellipse cx="365.7" cy="180.9" rx="1.45" ry="1.36"/><ellipse cx="373.8" cy="181.5" rx="1.45" ry="1.36"/><ellipse cx="384.3" cy="181.8" rx="1.45" ry="1.36"/><ellipse cx="382.8" cy="183.7" rx="1.45" ry="1.36"/><ellipse cx="357.7" cy="184.2" rx="1.45" ry="1.36"/><ellipse cx="360.3" cy="186.0" rx="1.45" ry="1.36"/><ellipse cx="347.2" cy="185.7" rx="1.45" ry="1.36"/><ellipse cx="394.5" cy="184.8" rx="1.45" ry="1.36"/><ellipse cx="380.5" cy="187.0" rx="1.45" ry="1.36"/><ellipse cx="393.7" cy="187.0" rx="1.45" ry="1.36"/><ellipse cx="396.7" cy="189.0" rx="1.45" ry="1.36"/><ellipse cx="391.5" cy="189.3" rx="1.45" ry="1.36"/><ellipse cx="150.0" cy="261.5" rx="1.45" ry="1.36"/><ellipse cx="169.5" cy="261.0" rx="1.45" ry="1.36"/><ellipse cx="201.4" cy="260.0" rx="1.45" ry="1.36"/><ellipse cx="150.3" cy="265.5" rx="1.45" ry="1.36"/><ellipse cx="195.4" cy="266.7" rx="1.45" ry="1.36"/><ellipse cx="169.9" cy="267.9" rx="1.45" ry="1.36"/><ellipse cx="183.7" cy="267.8" rx="1.45" ry="1.36"/><ellipse cx="155.2" cy="268.5" rx="1.45" ry="1.36"/><ellipse cx="156.0" cy="269.7" rx="1.45" ry="1.36"/><ellipse cx="151.8" cy="270.2" rx="1.45" ry="1.36"/><ellipse cx="165.4" cy="269.7" rx="1.45" ry="1.36"/><ellipse cx="155.5" cy="271.7" rx="1.45" ry="1.36"/><ellipse cx="198.1" cy="273.2" rx="1.45" ry="1.36"/><ellipse cx="190.3" cy="274.1" rx="1.45" ry="1.36"/><ellipse cx="160.5" cy="275.3" rx="1.45" ry="1.36"/><ellipse cx="163.2" cy="275.0" rx="1.45" ry="1.36"/><ellipse cx="167.1" cy="275.3" rx="1.45" ry="1.36"/><ellipse cx="156.7" cy="278.7" rx="1.45" ry="1.36"/><ellipse cx="157.8" cy="279.5" rx="1.45" ry="1.36"/><ellipse cx="182.5" cy="279.9" rx="1.45" ry="1.36"/><ellipse cx="203.7" cy="281.0" rx="1.45" ry="1.36"/><ellipse cx="159.0" cy="284.3" rx="1.45" ry="1.36"/><ellipse cx="160.8" cy="284.7" rx="1.45" ry="1.36"/><ellipse cx="161.2" cy="286.7" rx="1.45" ry="1.36"/><ellipse cx="174.7" cy="286.4" rx="1.45" ry="1.36"/><ellipse cx="180.7" cy="285.8" rx="1.45" ry="1.36"/><ellipse cx="181.5" cy="287.0" rx="1.45" ry="1.36"/><ellipse cx="162.3" cy="290.0" rx="1.45" ry="1.36"/><ellipse cx="177.7" cy="289.5" rx="1.45" ry="1.36"/><ellipse cx="166.6" cy="291.5" rx="1.45" ry="1.36"/><ellipse cx="181.8" cy="291.8" rx="1.45" ry="1.36"/><ellipse cx="166.9" cy="296.1" rx="1.45" ry="1.36"/><ellipse cx="194.4" cy="297.5" rx="1.45" ry="1.36"/><ellipse cx="178.5" cy="298.7" rx="1.45" ry="1.36"/><ellipse cx="179.2" cy="300.5" rx="1.45" ry="1.36"/><ellipse cx="181.8" cy="302.3" rx="1.45" ry="1.36"/><ellipse cx="173.7" cy="303.8" rx="1.45" ry="1.36"/><ellipse cx="182.7" cy="303.8" rx="1.45" ry="1.36"/><ellipse cx="179.5" cy="305.3" rx="1.45" ry="1.36"/><ellipse cx="193.8" cy="304.2" rx="1.45" ry="1.36"/><ellipse cx="195.7" cy="307.2" rx="1.45" ry="1.36"/><ellipse cx="187.3" cy="307.5" rx="1.45" ry="1.36"/><ellipse cx="192.0" cy="308.7" rx="1.45" ry="1.36"/><ellipse cx="190.8" cy="310.2" rx="1.45" ry="1.36"/><ellipse cx="199.5" cy="311.0" rx="1.45" ry="1.36"/><ellipse cx="184.5" cy="313.2" rx="1.45" ry="1.36"/><ellipse cx="194.4" cy="312.9" rx="1.45" ry="1.36"/><ellipse cx="196.0" cy="316.2" rx="1.45" ry="1.36"/><ellipse cx="199.5" cy="315.5" rx="1.45" ry="1.36"/><ellipse cx="195.7" cy="321.0" rx="1.45" ry="1.36"/><ellipse cx="202.2" cy="320.7" rx="1.45" ry="1.36"/><ellipse cx="204.7" cy="319.7" rx="1.45" ry="1.36"/><ellipse cx="200.5" cy="324.5" rx="1.45" ry="1.36"/><ellipse cx="204.7" cy="324.8" rx="1.45" ry="1.36"/><ellipse cx="273.2" cy="260.7" rx="1.45" ry="1.36"/><ellipse cx="240.5" cy="263.3" rx="1.45" ry="1.36"/><ellipse cx="237.2" cy="264.5" rx="1.45" ry="1.36"/><ellipse cx="220.7" cy="267.8" rx="1.45" ry="1.36"/><ellipse cx="261.2" cy="267.8" rx="1.45" ry="1.36"/><ellipse cx="261.5" cy="269.3" rx="1.45" ry="1.36"/><ellipse cx="268.0" cy="266.7" rx="1.45" ry="1.36"/><ellipse cx="268.0" cy="270.2" rx="1.45" ry="1.36"/><ellipse cx="274.3" cy="268.7" rx="1.45" ry="1.36"/><ellipse cx="223.0" cy="270.0" rx="1.45" ry="1.36"/><ellipse cx="236.2" cy="269.4" rx="1.45" ry="1.36"/><ellipse cx="235.3" cy="272.3" rx="1.45" ry="1.36"/><ellipse cx="241.4" cy="272.4" rx="1.45" ry="1.36"/><ellipse cx="206.5" cy="275.0" rx="1.45" ry="1.36"/><ellipse cx="219.4" cy="276.9" rx="1.45" ry="1.36"/><ellipse cx="231.4" cy="277.2" rx="1.45" ry="1.36"/><ellipse cx="243.4" cy="277.5" rx="1.45" ry="1.36"/><ellipse cx="265.4" cy="278.0" rx="1.45" ry="1.36"/><ellipse cx="262.4" cy="279.2" rx="1.45" ry="1.36"/><ellipse cx="267.7" cy="278.9" rx="1.45" ry="1.36"/><ellipse cx="226.9" cy="282.2" rx="1.45" ry="1.36"/><ellipse cx="231.5" cy="283.7" rx="1.45" ry="1.36"/><ellipse cx="236.5" cy="284.3" rx="1.45" ry="1.36"/><ellipse cx="255.7" cy="285.5" rx="1.45" ry="1.36"/><ellipse cx="271.7" cy="285.5" rx="1.45" ry="1.36"/><ellipse cx="239.8" cy="288.5" rx="1.45" ry="1.36"/><ellipse cx="248.8" cy="290.3" rx="1.45" ry="1.36"/><ellipse cx="256.7" cy="291.2" rx="1.45" ry="1.36"/><ellipse cx="260.5" cy="291.5" rx="1.45" ry="1.36"/><ellipse cx="274.3" cy="292.2" rx="1.45" ry="1.36"/><ellipse cx="251.5" cy="294.8" rx="1.45" ry="1.36"/><ellipse cx="249.5" cy="295.5" rx="1.45" ry="1.36"/><ellipse cx="257.8" cy="294.8" rx="1.45" ry="1.36"/><ellipse cx="261.5" cy="295.5" rx="1.45" ry="1.36"/><ellipse cx="209.0" cy="296.4" rx="1.45" ry="1.36"/><ellipse cx="209.5" cy="298.2" rx="1.45" ry="1.36"/><ellipse cx="220.0" cy="298.2" rx="1.45" ry="1.36"/><ellipse cx="211.0" cy="300.2" rx="1.45" ry="1.36"/><ellipse cx="216.7" cy="299.7" rx="1.45" ry="1.36"/><ellipse cx="212.5" cy="301.7" rx="1.45" ry="1.36"/><ellipse cx="219.5" cy="301.2" rx="1.45" ry="1.36"/><ellipse cx="240.5" cy="299.6" rx="1.45" ry="1.36"/><ellipse cx="233.5" cy="300.0" rx="1.45" ry="1.36"/><ellipse cx="231.7" cy="300.9" rx="1.45" ry="1.36"/><ellipse cx="262.4" cy="300.8" rx="1.45" ry="1.36"/><ellipse cx="270.2" cy="301.7" rx="1.45" ry="1.36"/><ellipse cx="223.0" cy="303.0" rx="1.45" ry="1.36"/><ellipse cx="236.2" cy="304.7" rx="1.45" ry="1.36"/><ellipse cx="237.2" cy="305.0" rx="1.45" ry="1.36"/><ellipse cx="231.7" cy="306.0" rx="1.45" ry="1.36"/><ellipse cx="216.2" cy="306.8" rx="1.45" ry="1.36"/><ellipse cx="245.5" cy="308.7" rx="1.45" ry="1.36"/><ellipse cx="246.7" cy="308.7" rx="1.45" ry="1.36"/><ellipse cx="241.7" cy="309.8" rx="1.45" ry="1.36"/><ellipse cx="253.4" cy="309.9" rx="1.45" ry="1.36"/><ellipse cx="262.0" cy="310.5" rx="1.45" ry="1.36"/><ellipse cx="207.2" cy="311.7" rx="1.45" ry="1.36"/><ellipse cx="244.7" cy="311.9" rx="1.45" ry="1.36"/><ellipse cx="219.5" cy="312.5" rx="1.45" ry="1.36"/><ellipse cx="221.8" cy="312.2" rx="1.45" ry="1.36"/><ellipse cx="227.5" cy="312.5" rx="1.45" ry="1.36"/><ellipse cx="229.7" cy="311.7" rx="1.45" ry="1.36"/><ellipse cx="228.5" cy="314.7" rx="1.45" ry="1.36"/><ellipse cx="257.2" cy="315.0" rx="1.45" ry="1.36"/><ellipse cx="329.7" cy="260.7" rx="1.45" ry="1.36"/><ellipse cx="315.5" cy="262.5" rx="1.45" ry="1.36"/><ellipse cx="341.4" cy="262.5" rx="1.45" ry="1.36"/><ellipse cx="326.7" cy="264.0" rx="1.45" ry="1.36"/><ellipse cx="302.9" cy="266.3" rx="1.45" ry="1.36"/><ellipse cx="275.7" cy="268.2" rx="1.45" ry="1.36"/><ellipse cx="316.5" cy="270.8" rx="1.45" ry="1.36"/><ellipse cx="278.0" cy="273.2" rx="1.45" ry="1.36"/><ellipse cx="322.2" cy="273.5" rx="1.45" ry="1.36"/><ellipse cx="284.7" cy="279.0" rx="1.45" ry="1.36"/><ellipse cx="290.4" cy="279.5" rx="1.45" ry="1.36"/><ellipse cx="298.7" cy="281.0" rx="1.45" ry="1.36"/><ellipse cx="305.4" cy="283.2" rx="1.45" ry="1.36"/><ellipse cx="311.3" cy="282.9" rx="1.45" ry="1.36"/><ellipse cx="327.9" cy="282.5" rx="1.45" ry="1.36"/><ellipse cx="335.6" cy="284.0" rx="1.45" ry="1.36"/><ellipse cx="333.8" cy="287.0" rx="1.45" ry="1.36"/><ellipse cx="312.2" cy="290.3" rx="1.45" ry="1.36"/><ellipse cx="305.7" cy="291.8" rx="1.45" ry="1.36"/><ellipse cx="344.0" cy="292.7" rx="1.45" ry="1.36"/><ellipse cx="315.8" cy="293.7" rx="1.45" ry="1.36"/><ellipse cx="298.5" cy="294.8" rx="1.45" ry="1.36"/><ellipse cx="302.0" cy="295.7" rx="1.45" ry="1.36"/><ellipse cx="276.8" cy="296.3" rx="1.45" ry="1.36"/><ellipse cx="322.7" cy="297.2" rx="1.45" ry="1.36"/><ellipse cx="284.3" cy="298.7" rx="1.45" ry="1.36"/><ellipse cx="285.9" cy="299.3" rx="1.45" ry="1.36"/><ellipse cx="313.5" cy="300.8" rx="1.45" ry="1.36"/><ellipse cx="341.4" cy="301.7" rx="1.45" ry="1.36"/><ellipse cx="319.2" cy="302.4" rx="1.45" ry="1.36"/><ellipse cx="278.3" cy="303.5" rx="1.45" ry="1.36"/><ellipse cx="282.5" cy="302.7" rx="1.45" ry="1.36"/><ellipse cx="286.7" cy="302.7" rx="1.45" ry="1.36"/><ellipse cx="289.5" cy="303.2" rx="1.45" ry="1.36"/><ellipse cx="288.5" cy="304.7" rx="1.45" ry="1.36"/><ellipse cx="327.2" cy="304.2" rx="1.45" ry="1.36"/><ellipse cx="281.0" cy="306.2" rx="1.45" ry="1.36"/><ellipse cx="282.8" cy="307.2" rx="1.45" ry="1.36"/><ellipse cx="305.4" cy="305.7" rx="1.45" ry="1.36"/><ellipse cx="307.2" cy="308.0" rx="1.45" ry="1.36"/><ellipse cx="294.8" cy="309.8" rx="1.45" ry="1.36"/><ellipse cx="306.0" cy="310.2" rx="1.45" ry="1.36"/><ellipse cx="339.9" cy="310.2" rx="1.45" ry="1.36"/><ellipse cx="303.5" cy="312.5" rx="1.45" ry="1.36"/><ellipse cx="277.2" cy="311.7" rx="1.45" ry="1.36"/><ellipse cx="276.5" cy="312.8" rx="1.45" ry="1.36"/><ellipse cx="281.7" cy="312.5" rx="1.45" ry="1.36"/><ellipse cx="281.4" cy="313.7" rx="1.45" ry="1.36"/><ellipse cx="369.4" cy="263.3" rx="1.45" ry="1.36"/><ellipse cx="382.2" cy="263.0" rx="1.45" ry="1.36"/><ellipse cx="386.7" cy="262.5" rx="1.45" ry="1.36"/><ellipse cx="391.5" cy="264.8" rx="1.45" ry="1.36"/><ellipse cx="369.7" cy="267.5" rx="1.45" ry="1.36"/><ellipse cx="379.5" cy="267.2" rx="1.45" ry="1.36"/><ellipse cx="382.9" cy="269.4" rx="1.45" ry="1.36"/><ellipse cx="367.5" cy="270.8" rx="1.45" ry="1.36"/><ellipse cx="387.4" cy="270.5" rx="1.45" ry="1.36"/><ellipse cx="391.9" cy="271.5" rx="1.45" ry="1.36"/><ellipse cx="371.7" cy="274.2" rx="1.45" ry="1.36"/><ellipse cx="348.0" cy="278.4" rx="1.45" ry="1.36"/><ellipse cx="355.9" cy="278.7" rx="1.45" ry="1.36"/><ellipse cx="387.4" cy="278.3" rx="1.45" ry="1.36"/><ellipse cx="375.4" cy="283.5" rx="1.45" ry="1.36"/><ellipse cx="374.5" cy="285.0" rx="1.45" ry="1.36"/><ellipse cx="386.2" cy="284.0" rx="1.45" ry="1.36"/><ellipse cx="351.9" cy="285.2" rx="1.45" ry="1.36"/><ellipse cx="372.7" cy="287.0" rx="1.45" ry="1.36"/><ellipse cx="351.4" cy="287.7" rx="1.45" ry="1.36"/><ellipse cx="384.3" cy="287.7" rx="1.45" ry="1.36"/><ellipse cx="380.5" cy="288.5" rx="1.45" ry="1.36"/><ellipse cx="365.2" cy="289.2" rx="1.45" ry="1.36"/><ellipse cx="381.7" cy="290.0" rx="1.45" ry="1.36"/><ellipse cx="382.0" cy="291.0" rx="1.45" ry="1.36"/><ellipse cx="346.5" cy="292.2" rx="1.45" ry="1.36"/><ellipse cx="365.5" cy="291.9" rx="1.45" ry="1.36"/><ellipse cx="356.5" cy="293.3" rx="1.45" ry="1.36"/><ellipse cx="378.3" cy="293.3" rx="1.45" ry="1.36"/><ellipse cx="375.4" cy="294.8" rx="1.45" ry="1.36"/><ellipse cx="375.0" cy="296.0" rx="1.45" ry="1.36"/><ellipse cx="346.8" cy="296.0" rx="1.45" ry="1.36"/><ellipse cx="369.3" cy="296.1" rx="1.45" ry="1.36"/><ellipse cx="372.0" cy="296.0" rx="1.45" ry="1.36"/><ellipse cx="351.0" cy="298.2" rx="1.45" ry="1.36"/><ellipse cx="366.7" cy="299.9" rx="1.45" ry="1.36"/><ellipse cx="371.7" cy="300.5" rx="1.45" ry="1.36"/><ellipse cx="359.2" cy="304.2" rx="1.45" ry="1.36"/><ellipse cx="364.2" cy="304.7" rx="1.45" ry="1.36"/><ellipse cx="369.7" cy="304.2" rx="1.45" ry="1.36"/><ellipse cx="365.5" cy="308.9" rx="1.45" ry="1.36"/><ellipse cx="353.2" cy="310.2" rx="1.45" ry="1.36"/><ellipse cx="347.7" cy="312.8" rx="1.45" ry="1.36"/><ellipse cx="361.2" cy="312.9" rx="1.45" ry="1.36"/><ellipse cx="358.2" cy="314.3" rx="1.45" ry="1.36"/><ellipse cx="348.7" cy="316.5" rx="1.45" ry="1.36"/><ellipse cx="347.5" cy="323.4" rx="1.45" ry="1.36"/><ellipse cx="230.3" cy="317.2" rx="1.45" ry="1.36"/><ellipse cx="236.9" cy="317.2" rx="1.45" ry="1.36"/><ellipse cx="218.9" cy="318.0" rx="1.45" ry="1.36"/><ellipse cx="208.9" cy="318.4" rx="1.45" ry="1.36"/><ellipse cx="238.0" cy="319.9" rx="1.45" ry="1.36"/><ellipse cx="216.2" cy="320.4" rx="1.45" ry="1.36"/><ellipse cx="225.6" cy="320.1" rx="1.45" ry="1.36"/><ellipse cx="232.0" cy="321.1" rx="1.45" ry="1.36"/><ellipse cx="233.9" cy="322.9" rx="1.45" ry="1.36"/><ellipse cx="223.0" cy="323.4" rx="1.45" ry="1.36"/><ellipse cx="217.7" cy="323.2" rx="1.45" ry="1.36"/><ellipse cx="226.1" cy="323.4" rx="1.45" ry="1.36"/><ellipse cx="216.8" cy="324.7" rx="1.45" ry="1.36"/><ellipse cx="235.0" cy="325.9" rx="1.45" ry="1.36"/><ellipse cx="236.9" cy="325.7" rx="1.45" ry="1.36"/><ellipse cx="228.2" cy="326.4" rx="1.45" ry="1.36"/><ellipse cx="226.6" cy="326.8" rx="1.45" ry="1.36"/><ellipse cx="206.9" cy="328.1" rx="1.45" ry="1.36"/><ellipse cx="210.6" cy="328.1" rx="1.45" ry="1.36"/><ellipse cx="212.5" cy="327.7" rx="1.45" ry="1.36"/><ellipse cx="215.5" cy="327.7" rx="1.45" ry="1.36"/><ellipse cx="215.9" cy="329.1" rx="1.45" ry="1.36"/><ellipse cx="214.6" cy="331.6" rx="1.45" ry="1.36"/><ellipse cx="225.1" cy="331.0" rx="1.45" ry="1.36"/><ellipse cx="238.0" cy="330.9" rx="1.45" ry="1.36"/><ellipse cx="233.1" cy="331.1" rx="1.45" ry="1.36"/><ellipse cx="234.6" cy="332.4" rx="1.45" ry="1.36"/><ellipse cx="227.9" cy="332.8" rx="1.45" ry="1.36"/><ellipse cx="239.1" cy="332.6" rx="1.45" ry="1.36"/><ellipse cx="222.2" cy="333.7" rx="1.45" ry="1.36"/><ellipse cx="224.6" cy="333.6" rx="1.45" ry="1.36"/><ellipse cx="233.3" cy="335.2" rx="1.45" ry="1.36"/><ellipse cx="236.1" cy="335.6" rx="1.45" ry="1.36"/><ellipse cx="224.3" cy="336.4" rx="1.45" ry="1.36"/><ellipse cx="227.5" cy="337.1" rx="1.45" ry="1.36"/><ellipse cx="236.9" cy="339.4" rx="1.45" ry="1.36"/><ellipse cx="239.1" cy="339.4" rx="1.45" ry="1.36"/><ellipse cx="269.8" cy="317.6" rx="1.45" ry="1.36"/><ellipse cx="255.4" cy="318.4" rx="1.45" ry="1.36"/><ellipse cx="255.6" cy="320.2" rx="1.45" ry="1.36"/><ellipse cx="258.0" cy="321.0" rx="1.45" ry="1.36"/><ellipse cx="273.0" cy="321.7" rx="1.45" ry="1.36"/><ellipse cx="241.1" cy="322.5" rx="1.45" ry="1.36"/><ellipse cx="249.1" cy="323.4" rx="1.45" ry="1.36"/><ellipse cx="254.6" cy="322.9" rx="1.45" ry="1.36"/><ellipse cx="260.2" cy="323.1" rx="1.45" ry="1.36"/><ellipse cx="263.4" cy="322.1" rx="1.45" ry="1.36"/><ellipse cx="255.0" cy="324.7" rx="1.45" ry="1.36"/><ellipse cx="261.7" cy="324.6" rx="1.45" ry="1.36"/><ellipse cx="268.1" cy="324.9" rx="1.45" ry="1.36"/><ellipse cx="271.5" cy="326.1" rx="1.45" ry="1.36"/><ellipse cx="252.4" cy="326.2" rx="1.45" ry="1.36"/><ellipse cx="258.7" cy="326.2" rx="1.45" ry="1.36"/><ellipse cx="245.4" cy="327.6" rx="1.45" ry="1.36"/><ellipse cx="265.5" cy="327.7" rx="1.45" ry="1.36"/><ellipse cx="258.0" cy="328.9" rx="1.45" ry="1.36"/><ellipse cx="254.2" cy="329.6" rx="1.45" ry="1.36"/><ellipse cx="256.1" cy="330.7" rx="1.45" ry="1.36"/><ellipse cx="258.7" cy="329.6" rx="1.45" ry="1.36"/><ellipse cx="265.1" cy="329.1" rx="1.45" ry="1.36"/><ellipse cx="267.0" cy="330.0" rx="1.45" ry="1.36"/><ellipse cx="274.1" cy="328.1" rx="1.45" ry="1.36"/><ellipse cx="272.6" cy="330.0" rx="1.45" ry="1.36"/><ellipse cx="268.9" cy="331.9" rx="1.45" ry="1.36"/><ellipse cx="266.6" cy="332.1" rx="1.45" ry="1.36"/><ellipse cx="274.5" cy="331.9" rx="1.45" ry="1.36"/><ellipse cx="240.7" cy="332.6" rx="1.45" ry="1.36"/><ellipse cx="247.9" cy="332.2" rx="1.45" ry="1.36"/><ellipse cx="244.5" cy="333.7" rx="1.45" ry="1.36"/><ellipse cx="249.4" cy="334.1" rx="1.45" ry="1.36"/><ellipse cx="254.6" cy="333.0" rx="1.45" ry="1.36"/><ellipse cx="258.7" cy="333.6" rx="1.45" ry="1.36"/><ellipse cx="263.8" cy="335.1" rx="1.45" ry="1.36"/><ellipse cx="274.5" cy="336.0" rx="1.45" ry="1.36"/><ellipse cx="270.0" cy="336.4" rx="1.45" ry="1.36"/><ellipse cx="247.5" cy="336.7" rx="1.45" ry="1.36"/><ellipse cx="248.4" cy="337.5" rx="1.45" ry="1.36"/><ellipse cx="252.4" cy="337.1" rx="1.45" ry="1.36"/><ellipse cx="240.4" cy="338.2" rx="1.45" ry="1.36"/><ellipse cx="269.1" cy="337.3" rx="1.45" ry="1.36"/><ellipse cx="246.4" cy="341.4" rx="1.45" ry="1.36"/><ellipse cx="262.5" cy="340.9" rx="1.45" ry="1.36"/><ellipse cx="263.6" cy="342.7" rx="1.45" ry="1.36"/><ellipse cx="255.7" cy="343.3" rx="1.45" ry="1.36"/><ellipse cx="257.1" cy="343.1" rx="1.45" ry="1.36"/><ellipse cx="260.4" cy="343.5" rx="1.45" ry="1.36"/><ellipse cx="267.7" cy="344.8" rx="1.45" ry="1.36"/><ellipse cx="271.1" cy="344.8" rx="1.45" ry="1.36"/><ellipse cx="273.0" cy="343.9" rx="1.45" ry="1.36"/><ellipse cx="274.6" cy="343.3" rx="1.45" ry="1.36"/><ellipse cx="293.1" cy="315.7" rx="1.45" ry="1.36"/><ellipse cx="284.7" cy="317.1" rx="1.45" ry="1.36"/><ellipse cx="303.5" cy="316.9" rx="1.45" ry="1.36"/><ellipse cx="306.5" cy="318.0" rx="1.45" ry="1.36"/><ellipse cx="277.4" cy="318.9" rx="1.45" ry="1.36"/><ellipse cx="277.1" cy="321.0" rx="1.45" ry="1.36"/><ellipse cx="283.6" cy="321.0" rx="1.45" ry="1.36"/><ellipse cx="279.5" cy="322.9" rx="1.45" ry="1.36"/><ellipse cx="282.5" cy="323.6" rx="1.45" ry="1.36"/><ellipse cx="287.4" cy="323.1" rx="1.45" ry="1.36"/><ellipse cx="285.9" cy="324.4" rx="1.45" ry="1.36"/><ellipse cx="299.1" cy="323.4" rx="1.45" ry="1.36"/><ellipse cx="277.6" cy="325.9" rx="1.45" ry="1.36"/><ellipse cx="275.7" cy="326.6" rx="1.45" ry="1.36"/><ellipse cx="288.1" cy="326.1" rx="1.45" ry="1.36"/><ellipse cx="290.0" cy="326.8" rx="1.45" ry="1.36"/><ellipse cx="293.1" cy="326.6" rx="1.45" ry="1.36"/><ellipse cx="282.9" cy="327.4" rx="1.45" ry="1.36"/><ellipse cx="285.1" cy="328.5" rx="1.45" ry="1.36"/><ellipse cx="282.5" cy="328.9" rx="1.45" ry="1.36"/><ellipse cx="300.0" cy="330.1" rx="1.45" ry="1.36"/><ellipse cx="277.2" cy="331.6" rx="1.45" ry="1.36"/><ellipse cx="282.7" cy="332.4" rx="1.45" ry="1.36"/><ellipse cx="295.1" cy="332.4" rx="1.45" ry="1.36"/><ellipse cx="297.5" cy="333.0" rx="1.45" ry="1.36"/><ellipse cx="299.1" cy="333.0" rx="1.45" ry="1.36"/><ellipse cx="303.1" cy="332.8" rx="1.45" ry="1.36"/><ellipse cx="306.5" cy="332.1" rx="1.45" ry="1.36"/><ellipse cx="309.6" cy="332.8" rx="1.45" ry="1.36"/><ellipse cx="289.1" cy="333.6" rx="1.45" ry="1.36"/><ellipse cx="290.7" cy="334.9" rx="1.45" ry="1.36"/><ellipse cx="280.2" cy="334.6" rx="1.45" ry="1.36"/><ellipse cx="281.7" cy="335.1" rx="1.45" ry="1.36"/><ellipse cx="276.1" cy="335.2" rx="1.45" ry="1.36"/><ellipse cx="297.5" cy="335.6" rx="1.45" ry="1.36"/><ellipse cx="304.6" cy="334.9" rx="1.45" ry="1.36"/><ellipse cx="306.1" cy="336.7" rx="1.45" ry="1.36"/><ellipse cx="289.8" cy="337.1" rx="1.45" ry="1.36"/><ellipse cx="285.9" cy="337.5" rx="1.45" ry="1.36"/><ellipse cx="283.1" cy="337.9" rx="1.45" ry="1.36"/><ellipse cx="306.9" cy="338.2" rx="1.45" ry="1.36"/><ellipse cx="284.7" cy="339.7" rx="1.45" ry="1.36"/><ellipse cx="282.1" cy="340.6" rx="1.45" ry="1.36"/><ellipse cx="296.4" cy="339.4" rx="1.45" ry="1.36"/><ellipse cx="300.0" cy="339.0" rx="1.45" ry="1.36"/><ellipse cx="292.6" cy="341.2" rx="1.45" ry="1.36"/><ellipse cx="305.7" cy="340.9" rx="1.45" ry="1.36"/><ellipse cx="296.7" cy="342.0" rx="1.45" ry="1.36"/><ellipse cx="297.9" cy="342.6" rx="1.45" ry="1.36"/><ellipse cx="296.0" cy="342.9" rx="1.45" ry="1.36"/><ellipse cx="289.2" cy="343.1" rx="1.45" ry="1.36"/><ellipse cx="290.7" cy="343.6" rx="1.45" ry="1.36"/><ellipse cx="278.7" cy="344.8" rx="1.45" ry="1.36"/><ellipse cx="280.8" cy="344.8" rx="1.45" ry="1.36"/><ellipse cx="340.4" cy="315.9" rx="1.45" ry="1.36"/><ellipse cx="330.6" cy="317.4" rx="1.45" ry="1.36"/><ellipse cx="337.6" cy="319.9" rx="1.45" ry="1.36"/><ellipse cx="321.1" cy="322.0" rx="1.45" ry="1.36"/><ellipse cx="328.0" cy="322.5" rx="1.45" ry="1.36"/><ellipse cx="331.6" cy="321.7" rx="1.45" ry="1.36"/><ellipse cx="343.0" cy="322.6" rx="1.45" ry="1.36"/><ellipse cx="313.4" cy="324.0" rx="1.45" ry="1.36"/><ellipse cx="314.6" cy="323.8" rx="1.45" ry="1.36"/><ellipse cx="331.7" cy="324.4" rx="1.45" ry="1.36"/><ellipse cx="337.9" cy="324.4" rx="1.45" ry="1.36"/><ellipse cx="321.1" cy="325.1" rx="1.45" ry="1.36"/><ellipse cx="332.5" cy="326.2" rx="1.45" ry="1.36"/><ellipse cx="340.4" cy="326.2" rx="1.45" ry="1.36"/><ellipse cx="341.9" cy="326.2" rx="1.45" ry="1.36"/><ellipse cx="329.1" cy="327.1" rx="1.45" ry="1.36"/><ellipse cx="319.7" cy="327.7" rx="1.45" ry="1.36"/><ellipse cx="333.6" cy="328.1" rx="1.45" ry="1.36"/><ellipse cx="327.1" cy="329.4" rx="1.45" ry="1.36"/><ellipse cx="334.7" cy="330.0" rx="1.45" ry="1.36"/><ellipse cx="332.1" cy="330.9" rx="1.45" ry="1.36"/><ellipse cx="314.3" cy="332.1" rx="1.45" ry="1.36"/><ellipse cx="319.0" cy="331.9" rx="1.45" ry="1.36"/><ellipse cx="320.1" cy="332.6" rx="1.45" ry="1.36"/><ellipse cx="330.2" cy="332.4" rx="1.45" ry="1.36"/><ellipse cx="331.4" cy="332.6" rx="1.45" ry="1.36"/><ellipse cx="325.2" cy="334.6" rx="1.45" ry="1.36"/><ellipse cx="318.2" cy="335.5" rx="1.45" ry="1.36"/><ellipse cx="314.3" cy="338.1" rx="1.45" ry="1.36"/></g>
<g fill="none" stroke-linecap="butt">
<path d="M264.2,216.8 L280.8,232.4 M280.8,216.8 L264.2,232.4" stroke="#ff0000" stroke-width="7.3"/>
<path d="M266.8,219.2 L278.2,230.0 M278.2,219.2 L266.8,230.0" stroke="#0000ff" stroke-width="4.4"/>
</g>
<g><text transform="translate(78.6,316.50) scale(1.1,1)" class="t e">-40</text><text transform="translate(237.00,429.90) scale(1.1,1)" class="t e">-40</text><text transform="translate(257.30,432.10) scale(1.1,1)" class="t">-40</text><text transform="translate(78.6,264.70) scale(1.1,1)" class="t e">-20</text><text transform="translate(197.00,406.03) scale(1.1,1)" class="t e">-20</text><text transform="translate(309.30,413.85) scale(1.1,1)" class="t">-20</text><text transform="translate(78.6,212.90) scale(1.1,1)" class="t e">0</text><text transform="translate(157.00,382.15) scale(1.1,1)" class="t e">0</text><text transform="translate(361.30,395.60) scale(1.1,1)" class="t">0</text><text transform="translate(78.6,161.10) scale(1.1,1)" class="t e">20</text><text transform="translate(117.00,358.28) scale(1.1,1)" class="t e">20</text><text transform="translate(413.30,377.35) scale(1.1,1)" class="t">20</text><text transform="translate(78.6,109.30) scale(1.1,1)" class="t e">40</text><text transform="translate(77.00,334.40) scale(1.1,1)" class="t e">40</text><text transform="translate(465.30,359.10) scale(1.1,1)" class="t">40</text></g>
<g transform="translate(97.2,425.5)"><text transform="scale(1.12,1)" class="l">y</text><text transform="translate(8,8.1) scale(1.13,1)" class="l s">mag</text><text transform="translate(35.2,0) scale(1.12,1)" class="l">[uT]</text></g>
<g transform="translate(346.2,430.4)"><text transform="scale(1.12,1)" class="l">x</text><text transform="translate(7.6,8.1) scale(1.13,1)" class="l s">mag</text><text transform="translate(35.2,0) scale(1.12,1)" class="l">[uT]</text></g>
<g transform="translate(40.4,242.9) scale(1.12,1) rotate(-90)"><text class="l">z</text><text transform="translate(6.6,7.0)" class="l s">mag</text><text transform="translate(31.2,0)" class="l">[uT]</text></g>
<!-- legend -->
<rect x="494.4" y="18.9" width="212" height="47.2" fill="#fff" stroke="#303030" stroke-width="1"/>
<clipPath id="c1"><rect x="495" y="19" width="40" height="17.1"/></clipPath>
<g fill="none" stroke-linecap="butt">
<path clip-path="url(#c1)" d="M504.8,18.8 L522.2,36.2 M522.2,18.8 L504.8,36.2" stroke="#ff0000" stroke-width="7.3"/>
<path d="M507.7,37.2 L519.1,48.2 M519.1,37.2 L507.7,48.2" stroke="#0000ff" stroke-width="4.4"/>
</g>
<circle cx="513.4" cy="57.8" r="1.15" fill="#0000ff"/>
<text transform="translate(530.1,32.4) scale(1.035,1)" class="lg">Origin</text>
<text transform="translate(530.1,46.6) scale(1.035,1)" class="lg">Center of magnetic field vector</text>
<text transform="translate(530.1,61.6) scale(1.035,1)" class="lg">Magnetometer data points</text>
<text x="548.1" y="457.8" class="wm" stroke="#c6e7bd" stroke-width="0.45" textLength="164.5" lengthAdjust="spacing">www.cntronics.com</text>
</svg>
</body></html>
